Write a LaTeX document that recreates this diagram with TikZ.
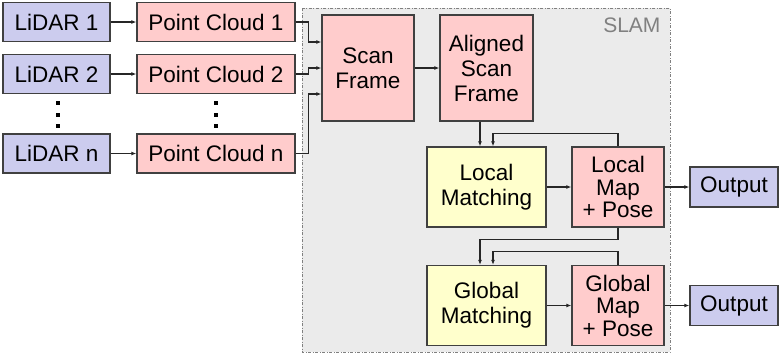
\documentclass[tikz,border=0pt]{standalone}
\usepackage{fontspec}
\setmainfont{Liberation Sans}
\usepackage{xcolor}
\usetikzlibrary{arrows.meta, positioning, backgrounds}
\definecolor{lidarblue}{RGB}{204,204,238}
\definecolor{cloudpink}{RGB}{255,204,204}
\definecolor{matchyellow}{RGB}{255,255,204}
\definecolor{boxline}{RGB}{64,64,64}
\definecolor{slamgray}{RGB}{235,235,235}
\tikzset{
  blk/.style={rectangle, draw=boxline, line width=1.3pt, align=center,
              inner sep=1pt, font=\fontsize{22.5}{25}\selectfont},
  srcbox/.style={blk, fill=lidarblue, minimum width=107pt, minimum height=39pt},
  databox/.style={blk, fill=cloudpink},
  mapbox/.style={databox, minimum width=92pt, minimum height=80pt,
                 font=\fontsize{22.5}{22.5}\selectfont},
  procbox/.style={blk, fill=matchyellow, minimum width=119pt, minimum height=80pt},
  outbox/.style={blk, fill=lidarblue, minimum width=88pt, minimum height=40pt},
  arrow/.style={-{Latex[length=5pt,width=4pt]}, line width=1.1pt, draw=black!85},
  dot/.style={rectangle, fill=black, inner sep=0pt, minimum size=4pt},
  slamzone/.style={draw=gray, fill=slamgray, line width=0.8pt,
                   dash pattern=on 3pt off 1.5pt on 1pt off 1.5pt},
}

\begin{document}
\begin{tikzpicture}[x=1pt, y=-1pt]
    \useasboundingbox (0,0) rectangle (780,354);
    % SLAM region
    \draw[slamzone] (302,8) rectangle (670,352);
    \node[anchor=north east, text=gray, font=\fontsize{21}{21}\selectfont] (slam) at (664,14) {SLAM};
    % sensors and clouds
    \node[srcbox] (lidar1) at (56.5,22) {LiDAR 1};
    \node[srcbox] (lidar2) at (56.5,74) {LiDAR 2};
    \node[srcbox] (lidarn) at (56.5,153.5) {LiDAR n};
    \node[databox, minimum width=158pt, minimum height=39pt] (pc1) at (216,22) {Point Cloud 1};
    \node[databox, minimum width=158pt, minimum height=39pt] (pc2) at (216,74) {Point Cloud 2};
    \node[databox, minimum width=158pt, minimum height=39pt] (pcn) at (216,153.5) {Point Cloud n};
    \foreach \dy [count=\i] in {103,114.5,126} {
      \node[dot] (ldot\i) at (58,\dy) {};
      \node[dot] (pdot\i) at (216,\dy) {};
    }
    % slam blocks
    \node[databox, minimum width=92pt, minimum height=106pt] (scan) at (368,68) {Scan\\Frame};
    \node[databox, minimum width=93pt, minimum height=106pt] (aligned) at (486.5,68) {Aligned\\Scan\\Frame};
    \node[procbox] (lmatch) at (486.5,187) {Local\\Matching};
    \node[mapbox] (lmap) at (618,187) {Local\\Map\\+ Pose};
    \node[procbox] (gmatch) at (486.5,305.5) {Global\\Matching};
    \node[mapbox] (gmap) at (618,305.5) {Global\\Map\\+ Pose};
    \node[outbox] (out1) at (734,187) {Output};
    \node[outbox] (out2) at (734,305.5) {Output};
    % connectors
    \draw[arrow] (lidar1) -- (pc1);
    \draw[arrow] (lidar2) -- (pc2);
    \draw[arrow] (lidarn) -- (pcn);
    \draw[arrow] (pc1.east) -- ++(13,0) |- ([yshift=26pt]scan.west);
    \draw[arrow] (pc2.east) -- ++(13,0) |- (scan.west);
    \draw[arrow] (pcn.east) -- ++(13,0) |- ([yshift=-26pt]scan.west);
    \draw[arrow] (scan) -- (aligned);
    \draw[arrow] ([xshift=-6.5pt]aligned.south) -- ([xshift=-6.5pt]lmatch.north);
    \draw[arrow] (lmap.north) -- ++(0,-13) -| ([xshift=6.5pt]lmatch.north);
    \draw[arrow] (lmatch) -- (lmap);
    \draw[arrow] (lmap) -- (out1);
    \draw[arrow] (lmap.south) -- ++(0,12) -| ([xshift=-6.5pt]gmatch.north);
    \draw[arrow] (gmap.north) -- ++(0,-13) -| ([xshift=6.5pt]gmatch.north);
    \draw[arrow] (gmatch) -- (gmap);
    \draw[arrow] (gmap) -- (out2);
\end{tikzpicture}
\end{document}
